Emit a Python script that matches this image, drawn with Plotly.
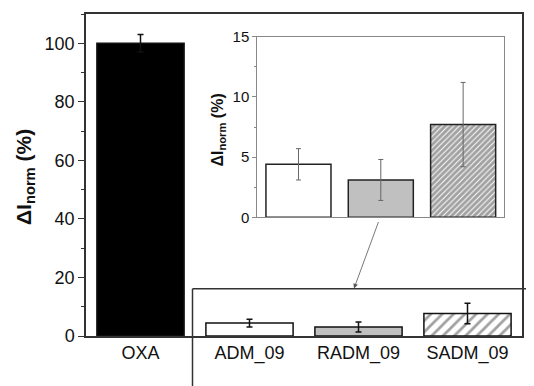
import plotly.graph_objects as go

# ---- data ----
categories = ["OXA", "ADM_09", "RADM_09", "SADM_09"]
values = [100, 4.4, 3.1, 7.7]
errors = [3.0, 1.3, 1.7, 3.5]
inset_categories = ["ADM_09", "RADM_09", "SADM_09"]
inset_values = [4.4, 3.1, 7.7]
inset_errors = [1.3, 1.7, 3.5]
main_ticks = [0, 20, 40, 60, 80, 100]
inset_ticks = [0, 5, 10, 15]

# page body has an 8px margin: size the figure so it fits the 534x386 window
OFF = 8
W, H = 534 - OFF, 386 - OFF
X0, X1, Y0, Y1 = 86, 522, 14, 336          # plot area in window pixels
L, T = X0 - OFF, Y0 - OFF
R, B = (534 - X1), (386 - Y1)
pw, ph = X1 - X0, Y1 - Y0

def px(x):  # window pixel -> paper x
    return (x - X0) / pw

def py(y):  # window pixel -> paper y
    return (Y1 - y) / ph

FONT = "Liberation Sans, Arial, sans-serif"

fig = go.Figure()

fig.add_trace(go.Bar(
    x=categories, y=values, width=0.8,
    marker=dict(color=["black", "white", "#c0c0c0", "white"],
                line=dict(color="#111", width=1.5),
                pattern=dict(shape=["", "", "", "/"], fgcolor="#000",
                             bgcolor="white", size=8, solidity=0.35)),
    error_y=dict(type="data", array=errors, color="#111", thickness=1.5, width=3),
    xaxis="x", yaxis="y", showlegend=False,
))

fig.add_trace(go.Bar(
    x=inset_categories, y=inset_values, width=0.79,
    marker=dict(color=["white", "#c0c0c0", "white"],
                line=dict(color="#222", width=1.5),
                pattern=dict(shape=["", "", "/"], fgcolor="#000",
                             bgcolor="white", size=4, solidity=0.75)),
    error_y=dict(type="data", array=inset_errors, color="#666", thickness=1, width=2.5),
    xaxis="x2", yaxis="y2", showlegend=False,
))

fig.update_layout(
    width=W, height=H,
    margin=dict(l=L, r=R, t=T, b=B, autoexpand=False),
    paper_bgcolor="white", plot_bgcolor="white",
    font=dict(family=FONT, color="#111"),
    xaxis=dict(domain=[0, 1], range=[-0.5, 3.5], showgrid=False, zeroline=False,
               showline=True, linecolor="#333", linewidth=1.5, mirror=True,
               ticks="", tickfont=dict(size=18, family=FONT), automargin=False),
    yaxis=dict(domain=[0, 1], range=[0, 110], showgrid=False, zeroline=False,
               showline=True, linecolor="#333", linewidth=1.5, mirror=True,
               tickvals=main_ticks, ticks="outside", ticklen=6, tickwidth=1.2,
               tickcolor="#333", tickfont=dict(size=18, family=FONT),
               automargin=False,
               minor=dict(dtick=10, ticks="outside", ticklen=3, tickwidth=1.2,
                          tickcolor="#333")),
    xaxis2=dict(domain=[px(257.3), px(504.3)], anchor="y2", range=[-0.5, 2.5],
                showgrid=False, zeroline=False, showline=True, linecolor="#888",
                linewidth=1, mirror=True, showticklabels=False, ticks=""),
    yaxis2=dict(domain=[py(217.3), py(36.7)], anchor="x2", range=[0, 15],
                showgrid=False, zeroline=False, showline=True, linecolor="#888",
                linewidth=1, mirror=True, tickvals=inset_ticks, ticks="outside",
                ticklen=4, tickwidth=1, tickcolor="#888",
                tickfont=dict(size=15, family=FONT),
                minor=dict(dtick=2.5, ticks="outside", ticklen=2, tickwidth=1,
                           tickcolor="#888")),
    shapes=[
        dict(type="line", xref="paper", yref="paper", x0=px(192.5), x1=px(540),
             y0=py(288.8), y1=py(288.8), line=dict(color="#333", width=1.5), layer="above"),
        dict(type="line", xref="paper", yref="paper", x0=px(192.5), x1=px(192.5),
             y0=py(288.8), y1=py(392), line=dict(color="#333", width=1.5), layer="above"),
    ],
    annotations=[
        dict(xref="paper", yref="paper", x=px(10), y=py(177),
             text="<b>ΔI<sub>norm</sub> (%)</b>", textangle=-90, showarrow=False,
             font=dict(size=21, family=FONT, color="#111")),
        dict(xref="paper", yref="paper", x=px(206), y=py(130),
             text="<b>ΔI<sub>norm</sub> (%)</b>", textangle=-90, showarrow=False,
             font=dict(size=16, family=FONT, color="#111")),
        dict(xref="paper", yref="paper", x=px(354), y=py(288.5), text="",
             showarrow=True, ax=25, ay=-68, axref="pixel", ayref="pixel",
             arrowhead=2, arrowsize=1.2, arrowwidth=0.8, arrowcolor="#555",
             standoff=0, startstandoff=0),
    ],
)

fig.write_html("out.html")
